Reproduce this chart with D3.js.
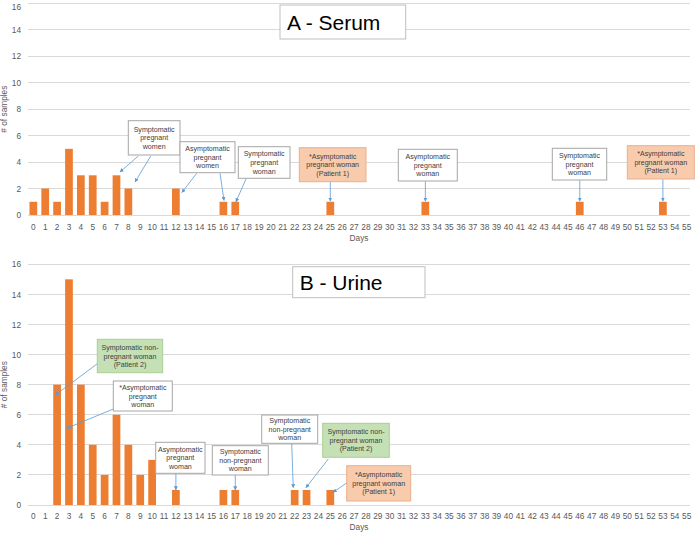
<!DOCTYPE html>
<html><head><meta charset="utf-8">
<script src="https://cdn.jsdelivr.net/npm/d3@7"></script>
<style>body{margin:0;background:#fff}</style></head>
<body><svg id="c" width="696" height="533" xmlns="http://www.w3.org/2000/svg"></svg>
<script>
// ---- data ----
const days = d3.range(0, 56);
const dayLabels = days.map(String);
const yTicks = [0, 2, 4, 6, 8, 10, 12, 14, 16];
const serumDays = [0, 1, 2, 3, 4, 5, 6, 7, 8, 12, 16, 17, 25, 33, 46, 53];
const serumCounts = [1, 2, 1, 5, 3, 3, 1, 3, 2, 2, 1, 1, 1, 1, 1, 1];
const urineDays = [2, 3, 4, 5, 6, 7, 8, 9, 10, 12, 16, 17, 22, 23, 25];
const urineCounts = [8, 15, 8, 4, 2, 6, 4, 2, 3, 1, 1, 1, 1, 1, 1];
const panelTitles = ["A - Serum", "B - Urine"];
const xTitle = "Days";
const yTitle = "# of samples";

// annotations: text lines, kind, and arrow targets (day, value)
const serumNotes = [
  {lines: ["Symptomatic", "pregnant", "women"], kind: "plain", targets: [{day: 7, v: 3.25}, {day: 8, v: 2.5}]},
  {lines: ["Asymptomatic", "pregnant", "women"], kind: "plain", targets: [{day: 12, v: 1.7}, {day: 16, v: 1.1}]},
  {lines: ["Symptomatic", "pregnant", "woman"], kind: "plain", targets: [{day: 17, v: 1.0}]},
  {lines: ["*Asymptomatic", "pregnant woman", "(Patient 1)"], kind: "p1", targets: [{day: 25, v: 1.05}]},
  {lines: ["Asymptomatic", "pregnant", "woman"], kind: "plain", targets: [{day: 33, v: 1.05}]},
  {lines: ["Symptomatic", "pregnant", "woman"], kind: "plain", targets: [{day: 46, v: 1.05}]},
  {lines: ["*Asymptomatic", "pregnant woman", "(Patient 1)"], kind: "p1", targets: [{day: 53, v: 1.05}]}
];
const urineNotes = [
  {lines: ["Symptomatic non-", "pregnant woman", "(Patient 2)"], kind: "p2", targets: [{day: 2, v: 7.3}]},
  {lines: ["*Asymptomatic", "pregnant", "woman"], kind: "plain", targets: [{day: 3, v: 5.1}]},
  {lines: ["Asymptomatic", "pregnant", "woman"], kind: "plain", targets: [{day: 12, v: 1.0}]},
  {lines: ["Symptomatic", "non-pregnant", "woman"], kind: "plain", targets: [{day: 17, v: 1.0}]},
  {lines: ["Symptomatic", "non-pregnant", "woman"], kind: "plain", targets: [{day: 22, v: 1.15}]},
  {lines: ["Symptomatic non-", "pregnant woman", "(Patient 2)"], kind: "p2", targets: [{day: 23, v: 1.15}]},
  {lines: ["*Asymptomatic", "pregnant woman", "(Patient 1)"], kind: "p1", targets: [{day: 25, v: 0.85}]}
];

// ---- layout ----
const panels = [
  {days: serumDays, counts: serumCounts, notes: serumNotes, title: panelTitles[0],
   y0: 215, y1: 3.3, tickY: 228, xTitleY: 241,
   titleBox: [280, 5, 125.7, 34],
   boxes: [[128.3, 120.7, 51.7, 34.3], [180, 141.7, 55, 31], [238.3, 146.7, 51.7, 31.6],
           [299.3, 147.7, 66.7, 34], [398.3, 149.3, 59, 31.7], [552.3, 148.3, 54.4, 31.7], [627.3, 145.7, 67, 33.3]],
   starts: [[[138.3, 156], [150.7, 156]], [[196.7, 173.3], [220, 173.3]], [[246, 179]], [[330.3, 182]], [[425.4, 181.3]], [[579.8, 180.3]], [[662.9, 179.3]]],
   dx: [[3.5, 6.7], [6, 0.6], [0.7], [0], [0], [0], [0]]},
  {days: urineDays, counts: urineCounts, notes: urineNotes, title: panelTitles[1],
   y0: 505, y1: 264.3, tickY: 517.5, xTitleY: 529.5,
   titleBox: [292.7, 266.7, 132.3, 31],
   boxes: [[97.3, 339.3, 65.4, 33.4], [113.3, 381, 59, 30], [155.7, 442.3, 49.3, 31], [212.3, 445.7, 56, 29.3],
           [261.7, 415, 56, 28.3], [322.7, 423.3, 66.6, 34], [346.7, 465.7, 64, 35.3]],
   starts: [[[101, 361]], [[113.3, 409]], [[175.9, 473.3]], [[235.3, 475]], [[291.7, 443.3]], [[328.3, 459]], [[347, 482.7]]],
   dx: [[-2], [-2.3], [0], [0], [-1.4], [-0.6], [3]]}
];

const x = d3.scaleBand().domain(days).range([27.4, 692.6]).paddingInner(0.35).paddingOuter(0.175);

const svg = d3.select("#c");
const defs = svg.append("defs");
defs.append("marker").attr("id", "ah").attr("viewBox", "0 0 10 10").attr("refX", 9).attr("refY", 5)
  .attr("markerWidth", 5).attr("markerHeight", 5).attr("orient", "auto-start-reverse")
  .append("path").attr("d", "M0,0 L10,5 L0,10 z").attr("fill", "#5B9BD5");

const styles = {
  plain: {fill: "#ffffff", stroke: "#a6a6a6"},
  p1: {fill: "#F8CBAD", stroke: "#E9B08C"},
  p2: {fill: "#C5E0B4", stroke: "#A9CF94"}
};
const FONT = "'Liberation Sans', Arial, sans-serif";

panels.forEach(p => {
  const y = d3.scaleLinear().domain([0, 16]).range([p.y0, p.y1]);
  const g = svg.append("g");

  g.append("g").selectAll("line").data(yTicks).join("line")
    .attr("x1", 28).attr("x2", 690).attr("y1", d => y(d)).attr("y2", d => y(d))
    .attr("stroke", "#d9d9d9").attr("stroke-width", 1).attr("shape-rendering", "crispEdges");

  const ya = g.append("g").attr("transform", "translate(21,0)")
    .call(d3.axisLeft(y).tickValues(yTicks).tickSize(0).tickPadding(0));
  ya.select(".domain").remove();
  ya.selectAll("text").attr("font-family", FONT).attr("font-size", 8.3).attr("fill", "#595959")
    .attr("dy", d => (y(d) < 6 ? "0.7em" : "0.32em"));

  const xa = g.append("g").attr("transform", `translate(0,${p.tickY - 8})`)
    .call(d3.axisBottom(x).tickValues(days).tickFormat((d, i) => dayLabels[i]).tickSize(0).tickPadding(4));
  xa.select(".domain").remove();
  xa.selectAll("text").attr("font-family", FONT).attr("font-size", 8.3).attr("fill", "#595959");

  g.append("text").attr("x", 359).attr("y", p.xTitleY).attr("text-anchor", "middle")
    .attr("font-family", FONT).attr("font-size", 8.3).attr("fill", "#595959").text(xTitle);
  const yMid = (p.y0 + p.y1) / 2;
  g.append("text").attr("transform", `translate(7,${yMid}) rotate(-90)`).attr("text-anchor", "middle")
    .attr("font-family", FONT).attr("font-size", 8.3).attr("fill", "#595959").text(yTitle);

  g.append("g").selectAll("rect").data(p.days.map((d, i) => ({day: d, v: p.counts[i]}))).join("rect")
    .attr("x", d => x(d.day)).attr("width", x.bandwidth())
    .attr("y", d => y(d.v)).attr("height", d => y(0) - y(d.v))
    .attr("fill", "#ED7D31");

  const tb = p.titleBox;
  g.append("rect").attr("x", tb[0]).attr("y", tb[1]).attr("width", tb[2]).attr("height", tb[3])
    .attr("fill", "#fff").attr("stroke", "#bfbfbf").attr("stroke-width", 1);
  g.append("text").attr("x", tb[0] + 7).attr("y", tb[1] + tb[3] / 2 + 7.5)
    .attr("font-family", FONT).attr("font-size", 21).attr("fill", "#000").text(p.title);

  p.notes.forEach((n, i) => {
    const b = p.boxes[i];
    const st = styles[n.kind];
    const ag = g.append("g");
    n.targets.forEach((t, j) => {
      const s = p.starts[i][j];
      ag.append("line").attr("x1", s[0]).attr("y1", s[1])
        .attr("x2", x(t.day) + x.bandwidth() / 2 + p.dx[i][j]).attr("y2", y(t.v))
        .attr("stroke", "#5B9BD5").attr("stroke-width", 0.8).attr("marker-end", "url(#ah)");
    });
    ag.append("rect").attr("x", b[0]).attr("y", b[1]).attr("width", b[2]).attr("height", b[3])
      .attr("fill", st.fill).attr("stroke", st.stroke).attr("stroke-width", 1);
    const lh = 8.6;
    const top = b[1] + b[3] / 2 - lh * (n.lines.length - 1) / 2 + 2.5;
    const t = ag.append("text").attr("text-anchor", "middle")
      .attr("font-family", FONT).attr("font-size", 7.1).attr("fill", "#404040");
    n.lines.forEach((ln, k) => {
      t.append("tspan").attr("x", b[0] + b[2] / 2).attr("y", top + k * lh).text(ln);
    });
  });
});
</script>
</body></html>
